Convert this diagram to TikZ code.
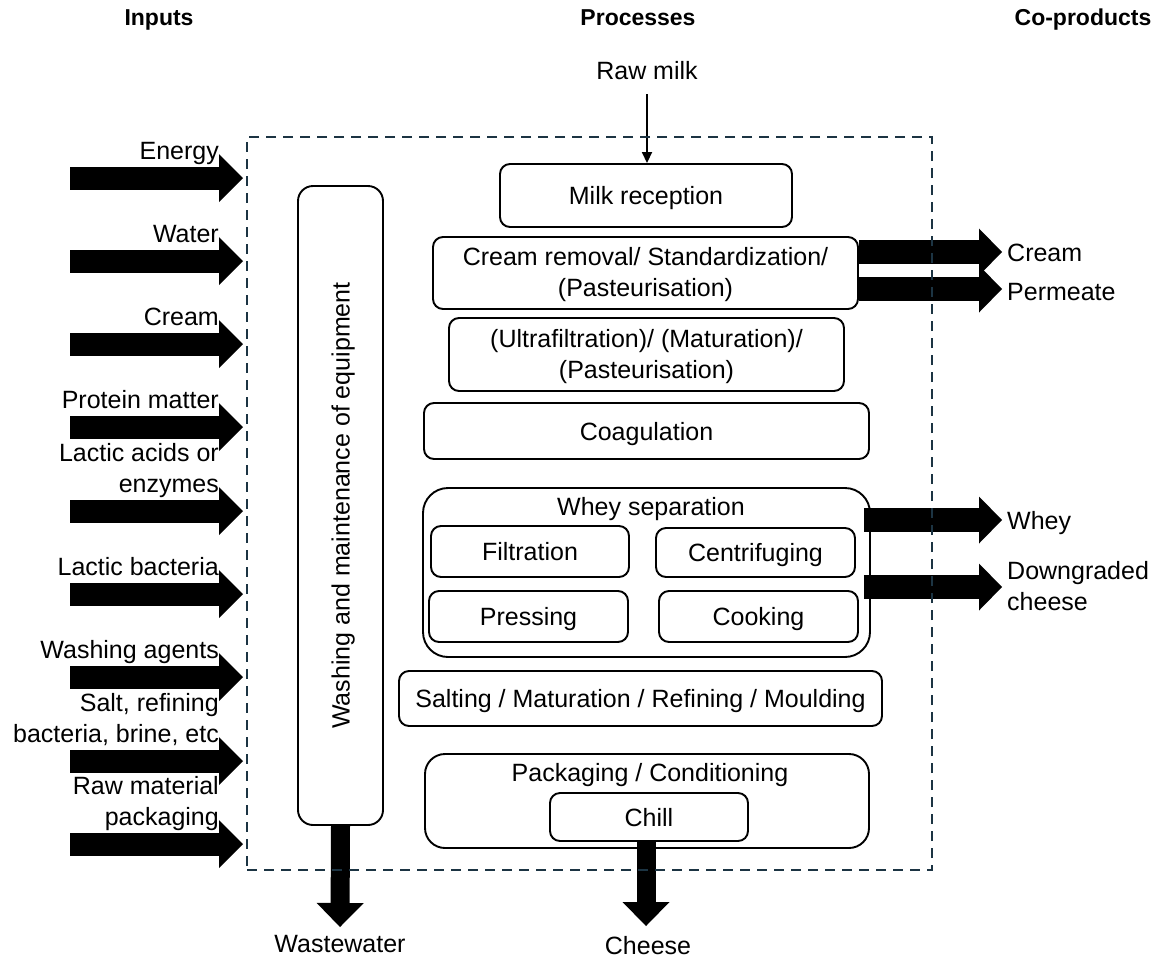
\documentclass[tikz,border=0pt]{standalone}
\usepackage{fontspec}
\setmainfont{Liberation Sans}
\usetikzlibrary{arrows.meta}
\definecolor{framecol}{HTML}{1C3443}
\begin{document}
\begin{tikzpicture}[x=1pt,y=-1pt,
  every node/.style={font=\fontsize{25}{31}\selectfont, inner sep=0pt},
  header/.style={font=\fontsize{23}{28}\selectfont\bfseries},
  procbox/.style={draw, line width=1.9pt, rounded corners=10pt, align=center},
  oneline/.style={text height=23pt, text depth=5pt},
  inlabel/.style={anchor=south east, align=right},
  outlabel/.style={anchor=west, align=left},
  inarrow/.style={line width=23pt, -{Triangle[length=24pt,width=48pt,line width=0pt]}},
  outarrow/.style={line width=24pt, -{Triangle[length=23pt,width=47pt,line width=0pt]}},
  downarrow/.style={line width=19pt, -{Triangle[length=24pt,width=47pt,line width=0pt]}},
  thinarrow/.style={line width=1.7pt, -{Triangle[length=11pt,width=10pt]}},
  frame/.style={draw=framecol, line width=2.2pt, dash pattern=on 10pt off 7pt}
]
\useasboundingbox (0,0) rectangle (1161,959);

% column headings
\node[header] (hin)  at (159,20) {Inputs};
\node[header] (hpro) at (638,18) {Processes};
\node[header] (hco)  at (1083,20) {Co-products};

% washing column
\node[procbox, rounded corners=15pt, minimum width=85pt, minimum height=639pt] (wash) at (340.5,505.5) {};
\node[rotate=90, oneline] (washt) at (wash.center) {Washing and maintenance of equipment};

% process chain
\node[procbox, oneline, minimum width=292pt, minimum height=63pt] (milk) at (646,195.5) {Milk reception};
\node[procbox, minimum width=425pt, minimum height=72pt] (cream) at (645.5,273) {};
\node[align=center] (creamt) at ([yshift=-2pt]cream.center) {Cream removal/ Standardization/\\(Pasteurisation)};
\node[procbox, minimum width=395pt, minimum height=73pt] (ultra) at (646.5,354.5) {};
\node[align=center] (ultrat) at ([yshift=-2pt]ultra.center) {(Ultrafiltration)/ (Maturation)/\\(Pasteurisation)};
\node[procbox, oneline, minimum width=445pt, minimum height=56pt] (coag) at (646.5,431) {Coagulation};

\node[procbox, rounded corners=25pt, minimum width=447pt, minimum height=169pt] (whey) at (646.5,572.5) {};
\node[oneline] (wheyt) at (651,506) {Whey separation};
\node[procbox, oneline, minimum width=198pt, minimum height=51pt] (filt) at (530,551.5) {Filtration};
\node[procbox, oneline, minimum width=199pt, minimum height=49pt] (cent) at (755.5,552.5) {Centrifuging};
\node[procbox, oneline, minimum width=199pt, minimum height=51pt] (press) at (528.5,616.5) {Pressing};
\node[procbox, oneline, minimum width=199pt, minimum height=51pt] (cook) at (758.5,616.5) {Cooking};

\node[procbox, oneline, minimum width=483pt, minimum height=55pt] (salt) at (640.5,698.5) {Salting / Maturation / Refining / Moulding};

\node[procbox, rounded corners=20pt, minimum width=444pt, minimum height=94pt] (pack) at (647,801) {};
\node[oneline] (packt) at (650,772) {Packaging / Conditioning};
\node[procbox, oneline, minimum width=198pt, minimum height=48pt] (chill) at (649,817) {Chill};

% raw milk supply
\node[oneline] (raw) at (647,70) {Raw milk};
\draw[thinarrow, shorten <=10pt] (raw.south) -- (raw.south |- milk.north);

% inputs
\foreach \y/\t [count=\i] in {178/Energy, 261/Water, 344/Cream, 427/Protein matter,
    511/{Lactic acids or\\enzymes}, 594/Lactic bacteria, 677/Washing agents,
    761/{Salt, refining\\bacteria, brine, etc}, 844/{Raw material\\packaging}} {
  \coordinate (t\i) at (70,\y);
  \coordinate (h\i) at (243,\y);
  \draw[inarrow] (t\i) -- (h\i);
  \node[inlabel] (l\i) at (219,\y-9) {\t\strut};
}

% co-products
\coordinate (ocream) at (1002,252);
\coordinate (operm)  at (1002,289);
\coordinate (owhey)  at (1002,520);
\coordinate (odown)  at (1002,587);
\draw[outarrow] (ocream -| cream.east) -- (ocream);
\draw[outarrow] (operm -| cream.east) -- (operm);
\draw[outarrow] ([xshift=-7pt]owhey -| whey.east) -- (owhey);
\draw[outarrow] ([xshift=-7pt]odown -| whey.east) -- (odown);
\node[outlabel, oneline] (lcream) at (1007,252) {Cream};
\node[outlabel, oneline] (lperm)  at (1007,291) {Permeate};
\node[outlabel, oneline] (lwhey)  at (1007,520) {Whey};
\node[outlabel] (ldown)  at (1007,586) {Downgraded\\cheese};

% outputs at the bottom
\coordinate (owaste) at (340,927);
\coordinate (ocheese) at (646,926);
\draw[downarrow] (wash.south) -- (owaste);
\draw[downarrow] (chill.south -| ocheese) -- (ocheese);
\node[oneline] (lwaste) at (340,943) {Wastewater};
\node[oneline] (lcheese) at (648,945) {Cheese};

% system boundary
\node[frame, minimum width=685pt, minimum height=733pt] (sys) at (589.5,503.5) {};
\end{tikzpicture}
\end{document}
